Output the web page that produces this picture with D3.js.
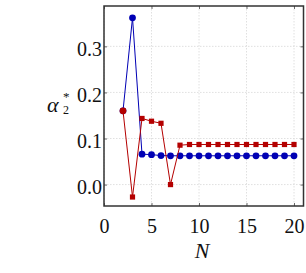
<!DOCTYPE html>
<html>
<head>
<meta charset="utf-8">
<script src="https://cdn.jsdelivr.net/npm/d3@7"></script>
<style>
  body { margin: 0; background: #fff; }
</style>
</head>
<body>
<div id="chart"></div>
<script>
// data
var nValues = [2, 3, 4, 5, 6, 7, 8, 9, 10, 11, 12, 13, 14, 15, 16, 17, 18, 19, 20];
var blueValues = [0.160, 0.362, 0.066, 0.065, 0.063, 0.0625, 0.0625, 0.0625, 0.0625, 0.0625,
                  0.0625, 0.0625, 0.0625, 0.0625, 0.0625, 0.0625, 0.0625, 0.0625, 0.0625];
var redValues = [0.160, -0.027, 0.1435, 0.1375, 0.133, 0.0, 0.0855, 0.087, 0.087, 0.087,
                 0.087, 0.087, 0.087, 0.087, 0.087, 0.087, 0.087, 0.087, 0.087];
var xTicks = [0, 5, 10, 15, 20];
var yTicks = [0.0, 0.1, 0.2, 0.3];

var W = 306, H = 273;
var margin = {top: 6, right: 2.5, bottom: 67, left: 104};
var FONT = "'Liberation Serif', 'Times New Roman', serif";

var svg = d3.select("#chart").append("svg")
    .attr("width", W).attr("height", H);

// scales
var x = d3.scaleLinear().domain([0, 21]).range([margin.left, W - margin.right]);
var y = d3.scaleLinear().domain([-0.0465, 0.3876]).range([H - margin.bottom, margin.top]);

var blue = "#0000b4", red = "#b40000";

// grid
svg.append("g").selectAll("line").data(xTicks).join("line")
    .attr("x1", d => x(d)).attr("x2", d => x(d))
    .attr("y1", y.range()[1]).attr("y2", y.range()[0])
    .attr("stroke", "#d8d8d8").attr("stroke-width", 0.8).attr("stroke-dasharray", "1.5,1.5");
svg.append("g").selectAll("line").data(yTicks).join("line")
    .attr("y1", d => y(d)).attr("y2", d => y(d))
    .attr("x1", x.range()[0]).attr("x2", x.range()[1])
    .attr("stroke", "#d8d8d8").attr("stroke-width", 0.8).attr("stroke-dasharray", "1.5,1.5");

// axes with inward ticks
var fmt = d3.format(".1f");
var gx = svg.append("g").attr("transform", "translate(0," + y.range()[0] + ")")
    .call(d3.axisBottom(x).tickValues(xTicks).tickSizeInner(-3).tickSizeOuter(0).tickPadding(13));
var gxt = svg.append("g").attr("transform", "translate(0," + y.range()[1] + ")")
    .call(d3.axisTop(x).tickValues(xTicks).tickSizeInner(-3).tickSizeOuter(0).tickFormat(""));
var gy = svg.append("g").attr("transform", "translate(" + x.range()[0] + ",0)")
    .call(d3.axisLeft(y).tickValues(yTicks).tickFormat(fmt).tickSizeInner(-3).tickSizeOuter(0).tickPadding(2));
var gyr = svg.append("g").attr("transform", "translate(" + x.range()[1] + ",0)")
    .call(d3.axisRight(y).tickValues(yTicks).tickSizeInner(-3).tickSizeOuter(0).tickFormat(""));

[gx, gxt, gy, gyr].forEach(function(g) {
  g.select(".domain").remove();
  g.attr("font-family", null).attr("font-size", null);
  g.selectAll(".tick line").attr("stroke", "#444").attr("stroke-width", 0.8);
  g.selectAll("text").style("font-size", "20px").style("font-family", FONT).attr("fill", "#111");
});
gy.selectAll("text").attr("dy", "0.45em");

// frame
svg.append("rect")
    .attr("x", x.range()[0]).attr("y", y.range()[1])
    .attr("width", x.range()[1] - x.range()[0]).attr("height", y.range()[0] - y.range()[1])
    .attr("fill", "none").attr("stroke", "#333").attr("stroke-width", 1.5);

var line = d3.line().x(d => x(d[0])).y(d => y(d[1]));
var bluePts = nValues.map((n, i) => [n, blueValues[i]]);
var redPts = nValues.map((n, i) => [n, redValues[i]]);

// blue series
svg.append("path").datum(bluePts).attr("d", line)
    .attr("fill", "none").attr("stroke", blue).attr("stroke-width", 1);
svg.append("g").selectAll("circle").data(bluePts).join("circle")
    .attr("cx", d => x(d[0])).attr("cy", d => y(d[1])).attr("r", 3.4).attr("fill", blue);

// red series
svg.append("path").datum(redPts).attr("d", line)
    .attr("fill", "none").attr("stroke", red).attr("stroke-width", 1);
svg.append("g").selectAll("rect").data(redPts.slice(1)).join("rect")
    .attr("x", d => x(d[0]) - 2.6).attr("y", d => y(d[1]) - 2.6)
    .attr("width", 5.2).attr("height", 5.2).attr("fill", red);
svg.append("circle").datum(redPts[0])
    .attr("cx", d => x(d[0])).attr("cy", d => y(d[1])).attr("r", 3.4).attr("fill", red);

// axis labels: alpha with stacked * and subscript 2
svg.append("text").attr("x", 47).attr("y", 111.5).attr("fill", "#111")
    .style("font-family", FONT).style("font-size", "22px").style("font-style", "italic")
    .text("α");
svg.append("text").attr("x", 63).attr("y", 101).attr("fill", "#111")
    .style("font-family", FONT).style("font-size", "13px").text("*");
svg.append("text").attr("x", 63).attr("y", 114).attr("fill", "#111")
    .style("font-family", FONT).style("font-size", "12px").text("2");

svg.append("text").attr("x", 202).attr("y", 258).attr("text-anchor", "middle")
    .style("font-family", FONT).style("font-size", "22px").style("font-style", "italic")
    .attr("fill", "#111").text("N");
</script>
</body>
</html>
